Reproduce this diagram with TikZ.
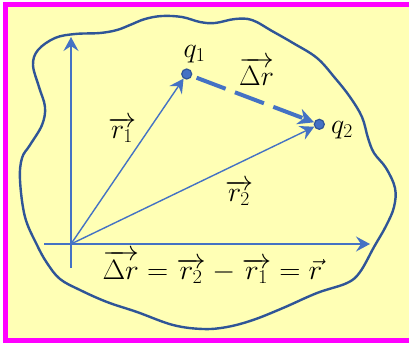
\documentclass[tikz,border=0pt]{standalone}
\usetikzlibrary{arrows.meta}
\usepackage{fix-cm}
\definecolor{bgyellow}{RGB}{255,255,181}
\definecolor{frame}{RGB}{255,0,255}
\definecolor{blobblue}{RGB}{47,85,151}
\definecolor{arrblue}{RGB}{68,114,196}
\tikzset{
  thinarrow/.style={draw=arrblue, line width=1.4pt, -{Stealth[length=14pt,width=15pt,inset=5pt]}},
  axisarrow/.style={thinarrow, line width=1.8pt},
  charge/.style={circle, fill=arrblue, draw=blobblue, line width=1.2pt, minimum size=10pt, inner sep=0pt},
  lbl/.style={font=\fontsize{28}{32}\selectfont, inner sep=0pt},
  dasharrow/.style={draw=arrblue, line width=4pt, dash pattern=on 31pt off 10pt, -{Stealth[length=16pt,width=16pt,inset=5pt]}, shorten <=5pt}
}
\begin{document}
\begin{tikzpicture}[x=1pt,y=-1pt]
\useasboundingbox (0,0) rectangle (409,343);
\clip (0,0) rectangle (409,343);
\fill[white] (0,0) rectangle (409,343);
\draw[frame, line width=5pt, fill=bgyellow] (5.5,4.5) rectangle (420,340.5);
\draw[blobblue, line width=2.4pt] plot[smooth cycle, tension=0.6] coordinates {
(55,38) (75,34) (100,33) (117,30) (130,25) (145,19) (162,16) (182,17) (200,22) (215,23)
(235,19) (252,20) (272,31) (293,43) (317,58) (335,78) (350,97) (362,117) (368,138) (374,153)
(386,168) (395,188) (394,207) (386,226) (374,247) (360,272) (347,283) (317,293) (283,308)
(253,320) (227,327) (203,329) (173,325) (137,312) (107,302) (80,290) (60,279) (47,263)
(37,245) (25,217) (20,180) (22,158) (30,145) (42,125) (45,107) (39,87) (33,65) (38,50)};
\coordinate (O) at (71,244);
\coordinate (ybot) at (71,268);
\coordinate (ytop) at (71,37);
\coordinate (xleft) at (44,244);
\coordinate (xright) at (370,244);
\node[charge] (q1) at (186.7,74) {};
\node[charge] (q2) at (319.3,124.3) {};
\draw[axisarrow] (ybot) -- (ytop);
\draw[thinarrow] (xleft) -- (xright);
\draw[thinarrow] (O) -- (q1);
\draw[thinarrow] (O) -- (q2);
\draw[dasharrow] (q1) -- (q2);
\node[lbl] (lq1) at (194.5,54) {$q_1$};
\node[lbl] (lq2) at (342,130) {$q_2$};
\node[lbl] (ldr) at (256.5,71) {$\overrightarrow{\Delta r}$};
\node[lbl] (lr1) at (122,130) {$\overrightarrow{r_1}$};
\node[lbl] (lr2) at (239,193) {$\overrightarrow{r_2}$};
\node[lbl] (eq) at (212.5,267) {\scalebox{1.05}[1]{$\overrightarrow{\Delta r}=\overrightarrow{r_2}-\overrightarrow{r_1}=\vec{r}$}};
\end{tikzpicture}
\end{document}
